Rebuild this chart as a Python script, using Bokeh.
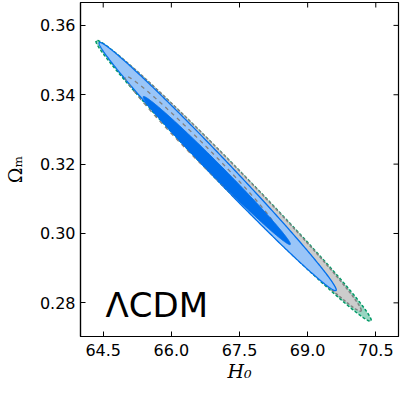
import numpy as np
from bokeh.plotting import figure
from bokeh.models import Range1d, FixedTicker, Label, NumeralTickFormatter
from bokeh.embed import file_html
from bokeh.resources import INLINE

# ---- data: each confidence contour = centre, half-extent along each parameter, correlation ----
contour_names = ["green_2sigma", "gray_2sigma", "blue_2sigma", "blue_1sigma", "gray_1sigma"]
h0_centre = [67.37, 67.365, 67.02, 67.00, 66.64]
om_centre = [0.3152, 0.31555, 0.3193, 0.31815, 0.32345]
h0_half = [3.03, 2.815, 2.61, 1.62, 1.66]
om_half = [0.0405, 0.03795, 0.0358, 0.02135, 0.02195]
correlation = [-0.9935, -0.9935, -0.9935, -0.993, -0.989]

x_ticks = [64.5, 66.0, 67.5, 69.0, 70.5]
y_ticks = [0.28, 0.30, 0.32, 0.34, 0.36]
model_label = "ΛCDM"

X0, X1 = 64.0, 71.0
Y0, Y1 = 0.2703, 0.3666


def contour(i, n=500):
    t = np.linspace(0, 2 * np.pi, n)
    theta = np.arccos(correlation[i])
    xs = h0_centre[i] + h0_half[i] * np.cos(t)
    ys = om_centre[i] + om_half[i] * np.cos(t - theta)
    return xs, ys


C = {name: contour(i) for i, name in enumerate(contour_names)}

p = figure(width=400, height=388, output_backend="svg", toolbar_location=None,
           x_range=Range1d(X0, X1), y_range=Range1d(Y0, Y1),
           min_border_left=75, min_border_top=2, min_border_right=2, min_border_bottom=52)
p.grid.visible = False
p.background_fill_color = "white"
p.border_fill_color = "white"
p.outline_line_color = "black"
p.outline_line_width = 1.2

BLUE = "#006FED"
BLUE_L = "#99C5F8"
GRAY = "#808080"
GRAY_L = "#CCCCCC"
GREEN = "#009966"
GREEN_L = "#99D6C2"

x, y = C["green_2sigma"]
p.patch(x, y, fill_color=GREEN_L, line_color=GREEN, line_width=1.5, line_dash="3 2")
x, y = C["gray_2sigma"]
p.patch(x, y, fill_color=GRAY_L, line_color=GRAY, line_width=1.5, line_dash="3 2")
x, y = C["blue_2sigma"]
p.patch(x, y, fill_color=BLUE_L, line_color=BLUE, line_width=1.3)
x, y = C["gray_1sigma"]
p.line(x, y, line_color=GRAY, line_width=1.3, line_dash="4 4")
x, y = C["blue_1sigma"]
p.patch(x, y, fill_color=BLUE, line_color=BLUE, line_width=1.0)

# inward ticks on the top and right edges (marks clipped to the frame)
p.scatter(x=x_ticks, y=[Y1] * len(x_ticks), marker="dash", angle=np.pi / 2,
          size=10, line_color="black", line_width=1)
p.scatter(x=[X1] * len(y_ticks), y=y_ticks, marker="dash",
          size=10, line_color="black", line_width=1)

p.add_layout(Label(x=64.55, y=0.2795, text=model_label, text_font="DejaVu Sans",
                   text_font_size="34px", text_color="black", text_baseline="alphabetic"))

FONT = "DejaVu Sans"
p.xaxis.ticker = FixedTicker(ticks=x_ticks)
p.yaxis.ticker = FixedTicker(ticks=y_ticks)
p.xaxis.formatter = NumeralTickFormatter(format="0.0")
p.yaxis.formatter = NumeralTickFormatter(format="0.00")
p.xaxis.axis_label = "H₀"
p.yaxis.axis_label = "Ωₘ"
for ax in (p.xaxis[0], p.yaxis[0]):
    ax.major_tick_in = 5
    ax.major_tick_out = 0
    ax.minor_tick_line_color = None
    ax.major_tick_line_color = "black"
    ax.axis_line_color = "black"
    ax.axis_line_width = 1.2
    ax.major_label_text_font = FONT
    ax.major_label_text_font_size = "16px"
    ax.major_label_text_color = "black"
    ax.axis_label_text_font = "DejaVu Serif"
    ax.axis_label_text_font_size = "19px"
    ax.axis_label_text_font_style = "italic"
    ax.axis_label_text_color = "black"
p.xaxis.major_label_standoff = 7
p.yaxis.major_label_standoff = 5
p.xaxis.axis_label_standoff = 1
p.yaxis.axis_label_standoff = 11
p.yaxis.axis_label_text_font_style = "normal"

open("out.html", "w").write(file_html(p, INLINE))
